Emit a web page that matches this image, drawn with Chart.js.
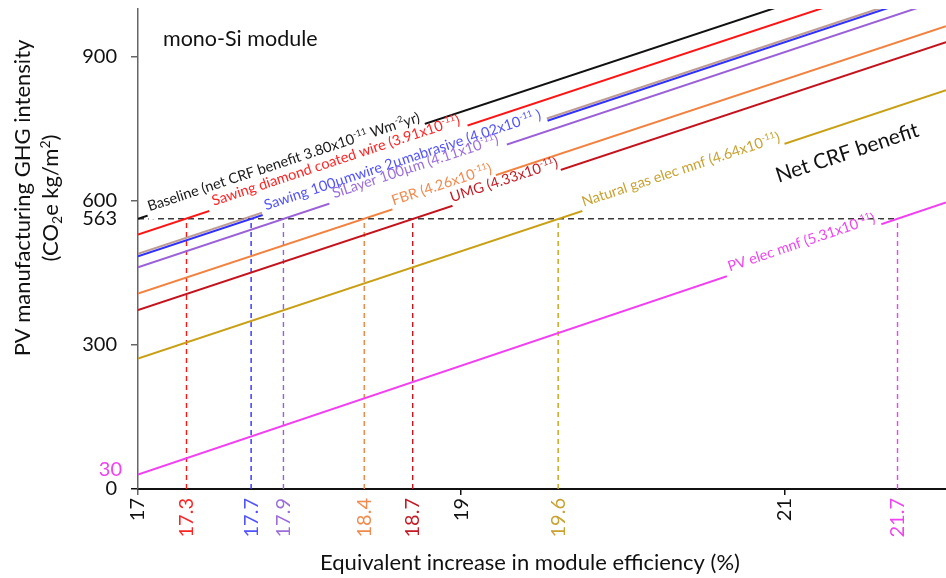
<!DOCTYPE html>
<html>
<head>
<meta charset="utf-8">
<script src="https://cdn.jsdelivr.net/npm/chart.js@4.4.1/dist/chart.umd.min.js"></script>
<style>
  html, body { margin: 0; padding: 0; background: #fff; }
  #wrap { width: 946px; height: 578px; }
</style>
</head>
<body>
<div id="wrap"><canvas id="chart" width="946" height="578"></canvas></div>
<script>
// ---- data -------------------------------------------------------------
// module efficiency span of every threshold line (%)
const effRange = [17, 22];
// manufacturing GHG intensity of the baseline module (CO2e kg/m2)
const breakEvenGHG = 563;

const seriesNames = ['Baseline', 'Sawing diamond coated wire', 'Sawing 100\u00b5mwire 2\u00b5mabrasive',
  'SiLayer 100\u00b5m', 'FBR', 'UMG', 'Natural gas elec mnf', 'PV elec mnf'];
// net CRF benefit, x10^-11 W m^-2 yr
const crfBenefit = ['3.80', '3.91', '4.02', '4.11', '4.26', '4.33', '4.64', '5.31'];
// GHG intensity allowed at 17 % and at 22 % module efficiency
const ghgAtStart = [563, 530, 485, 462, 407, 373, 272, 30];
const ghgAtEnd   = [1120, 1087, 1042, 1022, 964, 931, 831, 597];
// efficiency at which each route reaches the baseline intensity
const breakEvenEff = [17, 17.3, 17.7, 17.9, 18.4, 18.7, 19.6, 21.7];
// faint companion trace running just above the 100 µm wire line
const wireTraceStart = 490;
const wireTraceEnd = 1047;

const xTickValues = [17, 17.3, 17.7, 17.9, 18.4, 18.7, 19, 19.6, 21, 21.7];
const xMajorTicks = [17, 19, 21];
const yTickValues = [0, 300, 563, 600, 900];
const yMarkedTicks = [0, 300, 600, 900];
const intensityAt17 = 30; // labelled start of the PV-electricity line

// ---- styling ----------------------------------------------------------
const FONT = 'Lato';
const lineColors = ['#111111', '#ff1414', '#2f2fff', '#9a60d8', '#f2823f', '#c4131d', '#c9a014', '#f23ff2'];
const textColors = ['#1a1a1a', '#ff2424', '#5252ff', '#9d6fda', '#f18a4e', '#c31a24', '#c9a232', '#f044f0'];
const traceColor = 'rgba(178,140,128,0.85)';

const labelTexts = seriesNames.map((n, i) => {
  if (i === 0) return n + ' (net CRF benefit ' + crfBenefit[i] + 'x10^{-11} Wm^{-2}yr)';
  if (i === 2) return n + ' (' + crfBenefit[i] + 'x10^{-11} )';
  return n + ' (' + crfBenefit[i] + 'x10^{-11})';
});
// where each in-line label sits (efficiency of its centre) and the gap it cuts (px)
const labelCentres = [17.917, 18.24, 18.653, 18.733, 18.895, 19.281, 20.375, 21.122];
const labelGaps = [292, 272, 300, 187, 109, 114, 213, 163];

function tickColor(v) {
  const i = breakEvenEff.findIndex(e => Math.abs(e - v) < 1e-6);
  return i > 0 ? textColors[i] : '#111';
}

// ---- rich text helpers (^{sup} and _{sub}) ----------------------------
function parseRich(s) {
  const out = []; const re = /([\^_])\{([^}]*)\}/g; let last = 0, m;
  while ((m = re.exec(s))) {
    if (m.index > last) out.push({ t: s.slice(last, m.index), k: '' });
    out.push({ t: m[2], k: m[1] });
    last = re.lastIndex;
  }
  if (last < s.length) out.push({ t: s.slice(last), k: '' });
  return out;
}
function segFont(seg, size) {
  return (seg.k ? Math.round(size * 0.62) : size) + 'px ' + FONT;
}
function richWidth(ctx, segs, size) {
  let w = 0;
  segs.forEach(s => { ctx.font = segFont(s, size); w += ctx.measureText(s.t).width; });
  return w;
}
function drawRich(ctx, text, x, y, size, color, align) {
  const segs = parseRich(text);
  const w = richWidth(ctx, segs, size);
  let cx = align === 'center' ? x - w / 2 : x;
  ctx.fillStyle = color;
  ctx.textAlign = 'left';
  ctx.textBaseline = 'alphabetic';
  segs.forEach(s => {
    ctx.font = segFont(s, size);
    const dy = s.k === '^' ? -size * 0.38 : (s.k === '_' ? size * 0.18 : 0);
    ctx.fillText(s.t, cx, y + dy);
    cx += ctx.measureText(s.t).width;
  });
  return w;
}

// ---- datasets ---------------------------------------------------------
const datasets = [];
seriesNames.forEach((name, i) => {
  datasets.push({
    label: name,
    data: [{ x: effRange[0], y: ghgAtStart[i] }, { x: effRange[1], y: ghgAtEnd[i] }],
    borderColor: lineColors[i], borderWidth: 2
  });
  if (i === 2) {
    datasets.push({
      label: name + ' trace',
      data: [{ x: effRange[0], y: wireTraceStart }, { x: effRange[1], y: wireTraceEnd }],
      borderColor: traceColor, borderWidth: 2.2
    });
  }
});
datasets.push({
  label: 'baseline intensity',
  data: [{ x: effRange[0], y: breakEvenGHG }, { x: breakEvenEff[breakEvenEff.length - 1], y: breakEvenGHG }],
  borderColor: '#3a3a3a', borderWidth: 1.4, borderDash: [6, 4]
});
breakEvenEff.forEach((e, i) => {
  if (i === 0) return;
  datasets.push({
    label: seriesNames[i] + ' break-even',
    data: [{ x: e, y: 0 }, { x: e, y: breakEvenGHG }],
    borderColor: lineColors[i], borderWidth: 1.4, borderDash: [5, 4]
  });
});

// ---- annotation plugin ------------------------------------------------
const annotations = {
  id: 'annotations',
  afterDatasetsDraw(chart) {
    const { ctx, scales: { x, y } } = chart;
    // in-line labels: white gaps first, then the text
    const placed = seriesNames.map((n, i) => {
      const x0 = x.getPixelForValue(effRange[0]), y0 = y.getPixelForValue(ghgAtStart[i]);
      const x1 = x.getPixelForValue(effRange[1]), y1 = y.getPixelForValue(ghgAtEnd[i]);
      const ang = Math.atan2(y1 - y0, x1 - x0);
      const cx = x.getPixelForValue(labelCentres[i]);
      const cy = y0 + (cx - x0) * (y1 - y0) / (x1 - x0);
      return { cx, cy, ang };
    });
    placed.forEach((p, i) => {
      ctx.save();
      ctx.translate(p.cx, p.cy); ctx.rotate(p.ang);
      ctx.fillStyle = '#fff';
      ctx.fillRect(-labelGaps[i] / 2, -5.5, labelGaps[i], 11);
      ctx.restore();
    });
    placed.forEach((p, i) => {
      ctx.save();
      ctx.translate(p.cx, p.cy); ctx.rotate(p.ang);
      drawRich(ctx, labelTexts[i], 0, -3.5, 14.5, textColors[i], 'center');
      ctx.restore();
    });

    // "Net CRF benefit"
    const ang = placed[0].ang;
    ctx.save();
    ctx.translate(x.getPixelForValue(20.963), y.getPixelForValue(638));
    ctx.rotate(ang);
    drawRich(ctx, 'Net CRF benefit', 0, 0, 21, '#111', 'left');
    ctx.restore();
  },
  afterDraw(chart) {
    const { ctx, chartArea, scales: { y } } = chart;
    ctx.save();
    // panel title
    drawRich(ctx, 'mono-Si module', chartArea.left + 25, 46, 21.5, '#111', 'left');
    // labelled start value of the PV-electricity line
    ctx.font = '20px ' + FONT;
    ctx.fillStyle = textColors[7];
    ctx.textAlign = 'right'; ctx.textBaseline = 'middle';
    ctx.fillText(String(intensityAt17), 122, y.getPixelForValue(intensityAt17) - 5);
    // axis titles
    drawRich(ctx, 'Equivalent increase in module efficiency (%)', 530, 570, 22, '#111', 'center');
    ctx.translate(22, 198); ctx.rotate(-Math.PI / 2);
    drawRich(ctx, 'PV manufacturing GHG intensity', 0, 8, 22, '#111', 'center');
    drawRich(ctx, '(CO_{2}e kg/m^{2})', 0, 36, 22, '#111', 'center');
    ctx.restore();
  }
};

new Chart(document.getElementById('chart'), {
  type: 'line',
  data: { datasets },
  plugins: [annotations],
  options: {
    responsive: false,
    animation: false,
    layout: { padding: { top: 9, left: 0, right: 0, bottom: 0 } },
    plugins: { legend: { display: false }, tooltip: { enabled: false } },
    elements: { point: { radius: 0 }, line: { tension: 0 } },
    scales: {
      x: {
        type: 'linear', min: effRange[0], max: effRange[1],
        afterBuildTicks: s => { s.ticks = xTickValues.map(v => ({ value: v })); },
        afterFit: s => { s.height = 89; s.paddingLeft = 0; s.paddingRight = 0; },
        ticks: {
          autoSkip: false, minRotation: 90, maxRotation: 90, padding: 3,
          font: { family: FONT, size: 20 },
          color: c => tickColor(c.tick.value),
          callback: v => String(v)
        },
        grid: {
          drawOnChartArea: false, tickLength: 6, lineWidth: 1.5,
          color: c => (c.tick && xMajorTicks.includes(c.tick.value))
            ? (c.tick.value === effRange[0] ? '#666' : '#111') : 'rgba(0,0,0,0)'
        },
        border: { color: '#111', width: 2 }
      },
      y: {
        type: 'linear', min: 0, max: 1000,
        afterBuildTicks: s => { s.ticks = yTickValues.map(v => ({ value: v })); },
        afterFit: s => { s.width = 138; s.paddingTop = 0; s.paddingBottom = 0; },
        ticks: {
          padding: 14, font: { family: FONT, size: 20 }, color: '#111',
          callback: v => String(v)
        },
        grid: {
          drawOnChartArea: false, tickLength: 7, lineWidth: 1.5,
          color: c => (c.tick && yMarkedTicks.includes(c.tick.value))
            ? (c.tick.value === 0 ? '#111' : '#666') : 'rgba(0,0,0,0)'
        },
        border: { color: '#666', width: 1.5 }
      }
    }
  }
});
</script>
</body>
</html>
